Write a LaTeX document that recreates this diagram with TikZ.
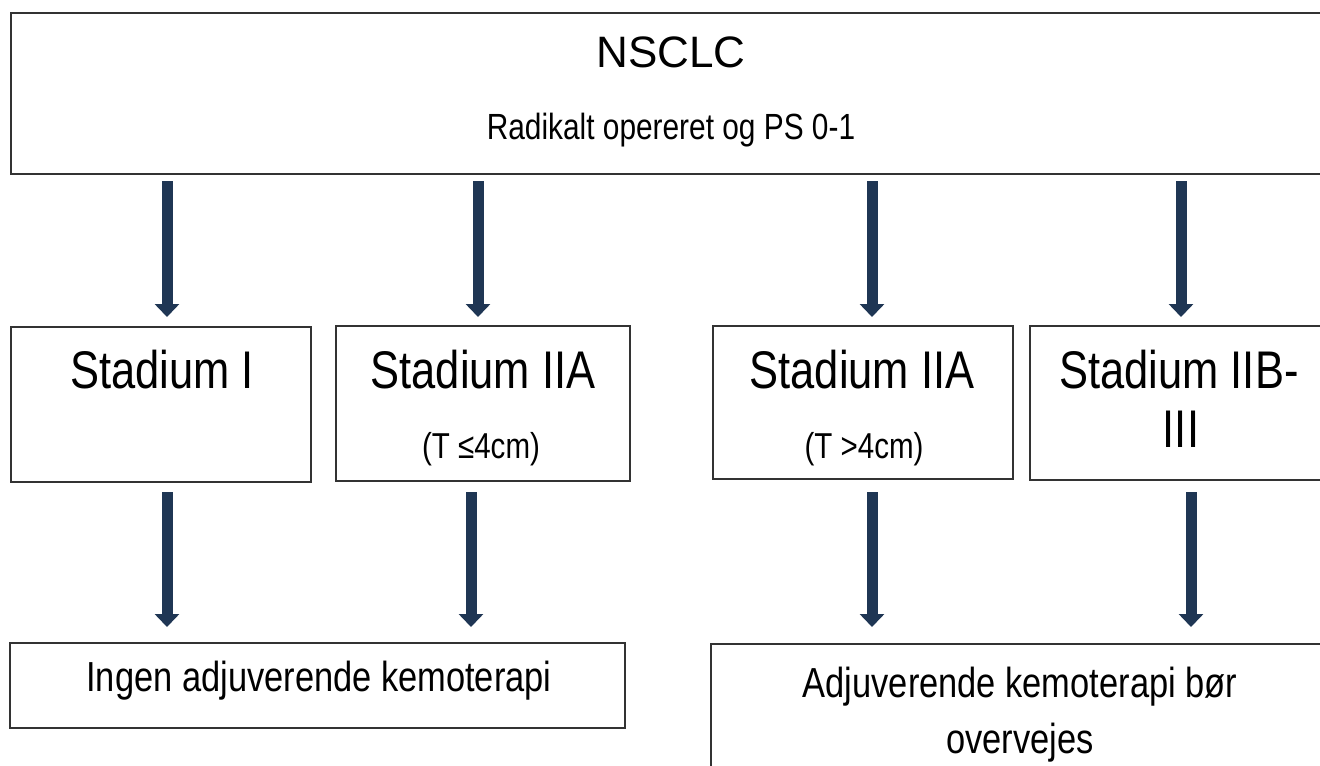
\documentclass[tikz,border=0pt]{standalone}
\usepackage{fontspec}
\setmainfont{Liberation Sans}[FakeStretch=0.82]
\newfontfamily\plainfont{Liberation Sans}
\usepackage{tikz}
\usetikzlibrary{arrows.meta,positioning}

\definecolor{arrowblue}{RGB}{31,54,84}

\begin{document}
\begin{tikzpicture}[
    x=0.5pt, y=-0.5pt,
    box/.style={draw=black!80, line width=1pt, fill=white, inner sep=0pt},
    flow/.style={draw=arrowblue, line width=5.5pt, -{Triangle[width=12pt,length=6.5pt]}, arrowblue},
    big/.style={font=\fontsize{26.5}{30}\selectfont, anchor=base, inner sep=0pt},
    small/.style={font=\fontsize{18}{21}\selectfont, anchor=base, inner sep=0pt},
    result/.style={font=\fontsize{21}{25}\selectfont, anchor=base, inner sep=0pt},
]
\useasboundingbox (0,0) rectangle (1320,765);

% --- Top box ---
\draw[box] (11,13) rectangle (1340,174);
\node[font=\plainfont\fontsize{22}{26}\selectfont, anchor=base, inner sep=0pt] (nsclc) at (671,68) {NSCLC};
\node[font=\fontsize{18.2}{22}\selectfont, anchor=base, inner sep=0pt] (krit) at (671,140) {Radikalt opereret og PS 0-1};

% --- Stage boxes ---
\draw[box] (11,327) rectangle (311,482);
\draw[box] (336,326) rectangle (630,481);
\draw[box] (713,326) rectangle (1013,479);
\draw[box] (1030,326) rectangle (1340,480);

\node[big] (st1) at (162,388) {Stadium I};
\node[big] (st2a) at (483,388) {Stadium IIA};
\node[small] (t2a) at (481,458) {(T ≤4cm)};
\node[big] (st2b) at (862,388) {Stadium IIA};
\node[small] (t2b) at (864,458) {(T >4cm)};
\node[big] (st3) at (1179,388) {Stadium IIB-};
\node[big] (st3b) at (1181,447) {III};

% --- Result boxes ---
\draw[box] (10,643) rectangle (625,728);
\draw[box] (711,644) rectangle (1340,790);

\node[result] (ingen) at (319,691) {Ingen adjuverende kemoterapi};
\node[result] (adj) at (1020,697) {Adjuverende kemoterapi bør};
\node[result] (adj2) at (1020,753) {overvejes};

% --- Arrows, row 1 ---
\foreach \n/\x in {1/167, 2/478, 3/872, 4/1181} {
    \coordinate (a\n) at (\x,181);
    \coordinate (b\n) at (\x,317);
    \draw[flow] (a\n) -- (b\n);
}
% --- Arrows, row 2 ---
\foreach \n/\x in {1/167, 2/471, 3/872, 4/1191} {
    \coordinate (c\n) at (\x,492);
    \coordinate (d\n) at (\x,627);
    \draw[flow] (c\n) -- (d\n);
}

\end{tikzpicture}
\end{document}
